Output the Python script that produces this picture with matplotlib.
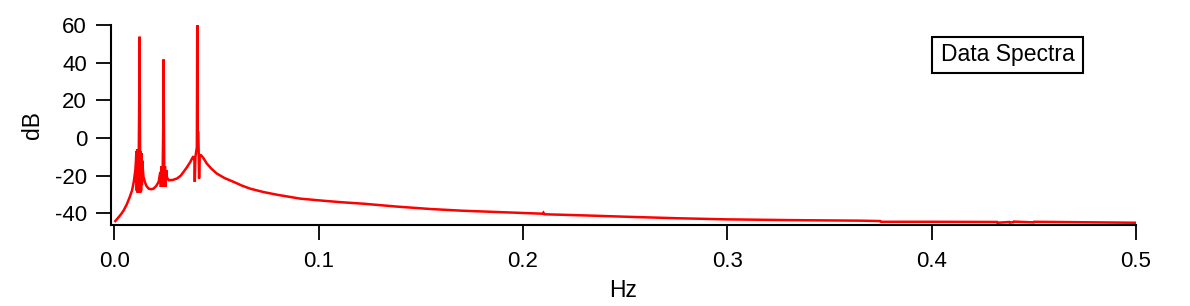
import matplotlib
matplotlib.use("Agg")
import matplotlib.pyplot as plt
from matplotlib.patches import Rectangle

plt.rcParams['font.family'] = ['Liberation Sans', 'DejaVu Sans']
plt.rcParams['axes.unicode_minus'] = False

# Spectrum (frequency in Hz, level in dB)
freq_hz = [
    0.0005, 0.0020, 0.0035, 0.0046, 0.0060, 0.0075, 0.0087, 0.0095, 0.0103,
    0.0106, 0.0108,
    0.0110, 0.0112, 0.0114, 0.0116, 0.0118, 0.0120, 0.0122, 0.01238, 0.0125,
    0.0127, 0.0129, 0.0131, 0.0133, 0.0135, 0.0137, 0.0140, 0.0143,
    0.0150, 0.0158, 0.0168, 0.0180, 0.0192, 0.0205, 0.0217, 0.0222,
    0.0225, 0.0228, 0.0231, 0.0234, 0.0237, 0.0240, 0.0241, 0.0243, 0.0245,
    0.0248, 0.0251, 0.0254, 0.0258, 0.0266,
    0.0285, 0.0307, 0.0325, 0.0339, 0.0355, 0.0372, 0.0382, 0.0388,
    0.0392, 0.0394, 0.0397, 0.0404, 0.0406, 0.0408, 0.0411, 0.0413, 0.0415,
    0.0418, 0.0424,
    0.0435, 0.0453, 0.0475, 0.0502, 0.0540, 0.0584, 0.0625, 0.0665, 0.0730,
    0.0800, 0.0910, 0.1000, 0.1110, 0.1220, 0.1380, 0.1546, 0.1700, 0.1872,
    0.2095, 0.2100, 0.2105, 0.2300, 0.2500, 0.2750, 0.2997, 0.3300, 0.3650,
    0.3748, 0.3752, 0.4000, 0.4320, 0.4322, 0.4380, 0.4382, 0.4400, 0.4402,
    0.4500, 0.4502, 0.5000,
]
level_db = [
    -44.1, -42.2, -40.2, -38.4, -35.5, -31.5, -27.8, -23.5, -17.1,
    -12.0, -7.0,
    -28.0, -6.0, -29.0, -6.0, -28.0, -5.0, 20.0, 53.8, 15.0,
    -29.0, -7.0, -28.0, -8.0, -25.0, -12.0, -17.0, -20.7,
    -23.5, -25.6, -26.9, -27.2, -26.9, -25.5, -23.3, -20.0,
    -18.0, -26.0, -15.0, -26.0, -15.0, 10.0, 41.7, 5.0, -26.0,
    -15.0, -26.0, -17.0, -21.0, -22.4,
    -22.3, -21.5, -20.0, -18.0, -15.6, -12.7, -10.6, -9.7,
    -12.0, -23.3, -10.0, -5.0, 60.0, 4.1, 3.0, -8.0, -21.5,
    -9.0, -9.1,
    -10.5, -13.6, -16.3, -18.9, -21.3, -23.3, -25.3, -26.9, -28.7,
    -30.2, -32.2, -33.1, -34.1, -34.9, -36.4, -37.7, -38.6, -39.3,
    -40.2, -39.6, -40.5, -41.1, -41.8, -42.6, -43.2, -43.6, -43.9,
    -44.1, -44.5, -44.5, -44.6, -45.0, -44.6, -44.9, -44.7, -44.4,
    -44.8, -44.5, -45.0,
]

x_ticks = [0.0, 0.1, 0.2, 0.3, 0.4, 0.5]
x_ticklabels = ["0.0", "0.1", "0.2", "0.3", "0.4", "0.5"]
y_ticks = [-40, -20, 0, 20, 40, 60]
legend_label = "Data Spectra"

W, H = 1190, 306
fig = plt.figure(figsize=(W / 100, H / 100), dpi=100)
ax = fig.add_axes([110.7 / W, 1 - 225 / H, (1136 - 110.7) / W, 200 / H])

ax.plot(freq_hz, level_db, color='#ff0000', lw=1.8, solid_joinstyle='miter')

ax.set_xlim(-0.00176, 0.5)
ax.set_ylim(-46.2, 60)
ax.set_xticks(x_ticks)
ax.set_xticklabels(x_ticklabels)
ax.set_yticks(y_ticks)

for s in ['top', 'right']:
    ax.spines[s].set_visible(False)
for s in ['left', 'bottom']:
    ax.spines[s].set_linewidth(1.5)

ax.tick_params(axis='both', direction='out', length=11, width=1.3,
               labelsize=16, colors='black')
ax.tick_params(axis='y', pad=6)
ax.tick_params(axis='x', pad=8)

ax.set_xlabel("Hz", fontsize=16.5, labelpad=5)
ax.set_ylabel("dB", fontsize=16.5, labelpad=8)

# Legend-like box
bx0, bx1, by0, by1 = 931.7, 1083.3, 37.3, 72.7
fig.patches.append(Rectangle((bx0 / W, 1 - by1 / H), (bx1 - bx0) / W, (by1 - by0) / H,
                             transform=fig.transFigure, fill=False,
                             edgecolor='black', linewidth=1.5))
fig.text((bx0 + bx1) / 2 / W, 1 - 55 / H, legend_label, ha='center', va='center',
         fontsize=16.5)

fig.savefig("out.png", dpi=100)
